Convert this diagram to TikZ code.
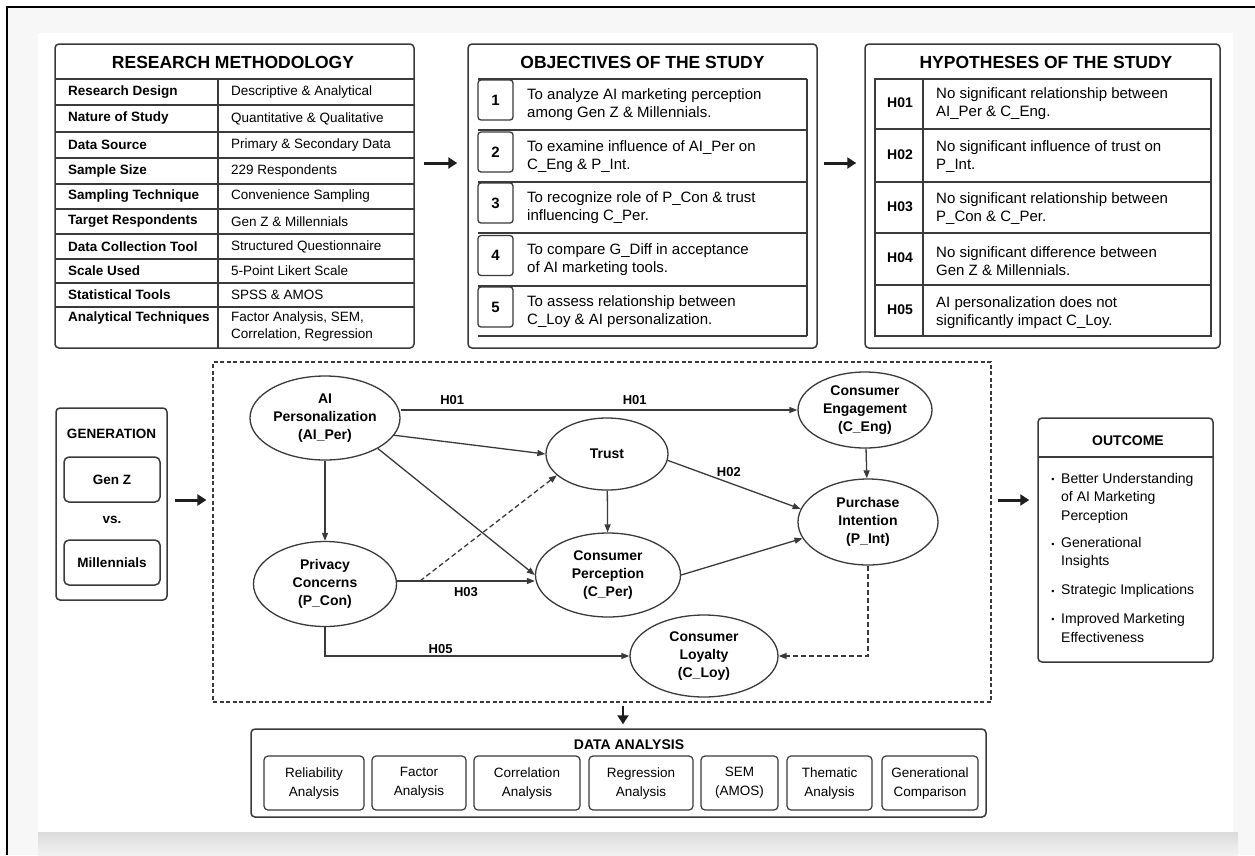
\documentclass[tikz,border=0pt]{standalone}
\usepackage{fontspec}
\setmainfont{Liberation Sans}
\usetikzlibrary{shapes.geometric,arrows.meta}
\definecolor{edgec}{HTML}{3A3A3A}
\definecolor{ink}{HTML}{1E1E1E}
\begin{document}
\begin{tikzpicture}[x=1pt, y=-1pt,
  box/.style={draw=edgec, line width=1.5pt, rounded corners=4pt},
  ttl/.style={font=\fontsize{17.5}{20}\selectfont\bfseries},
  tbl/.style={draw=edgec, line width=1.3pt},
  lab/.style={anchor=west, inner sep=0pt, font=\fontsize{13.5}{17}\selectfont\bfseries},
  val/.style={anchor=west, inner sep=0pt, align=left, font=\fontsize{13.5}{17}\selectfont},
  nbox/.style={draw=edgec, line width=1.3pt, rounded corners=3pt, fill=white, minimum width=35pt, minimum height=40pt, inner sep=0pt, font=\fontsize{15}{18}\selectfont\bfseries},
  txt/.style={anchor=west, inner sep=0pt, align=left, font=\fontsize{15}{18}\selectfont},
  hlab/.style={inner sep=0pt, font=\fontsize{14}{17}\selectfont\bfseries},
  var/.style={ellipse, draw=edgec, line width=1.3pt, fill=white, inner sep=0pt, align=center, font=\fontsize{14}{18}\selectfont\bfseries},
  arr/.style={draw=edgec, line width=1.3pt, -{Triangle[length=8pt,width=6pt]}},
  darr/.style={arr, dash pattern=on 5pt off 3pt},
  big/.style={draw=ink, line width=3pt, -{Triangle[length=9pt,width=11pt]}},
  lbl/.style={inner sep=2pt, font=\fontsize{13}{15}\selectfont\bfseries},
  dbox/.style={draw=edgec, line width=1.2pt, rounded corners=4pt, minimum height=54pt, inner sep=0pt, align=center, font=\fontsize{13.5}{19}\selectfont},
  bul/.style={inner sep=0pt, font=\fontsize{9}{10}\selectfont},
  otx/.style={anchor=west, inner sep=0pt, align=left, font=\fontsize{14}{18.5}\selectfont}]
\useasboundingbox (0,0) rectangle (1255,855);
\fill[white] (0,0) rectangle (1255,855);
\fill[gray!6] (7,7) rectangle (1255,855);
\shade[top color=gray!28, bottom color=gray!10] (38,832) rectangle (1238,855);
\fill[white] (38,33) rectangle (1233,832);
\draw[black, line width=2pt] (7,855) -- (7,7) -- (1255,7);
\node[box, minimum width=359pt, minimum height=304pt] (meth) at (234.5,196){};
\node[ttl] (metht) at (233,62){RESEARCH METHODOLOGY};
\draw[tbl] (55,79) -- (414,79) (55,105) -- (414,105) (55,132) -- (414,132) (55,158) -- (414,158) (55,184) -- (414,184) (55,209) -- (414,209) (55,234) -- (414,234) (55,259) -- (414,259) (55,283) -- (414,283) (55,307) -- (414,307) (218,79) -- (218,348);
\node[lab] (ml1) at (68,92){Research Design};
\node[val] (mv1) at (231,92){Descriptive \& Analytical};
\node[lab] (ml2) at (68,118.5){Nature of Study};
\node[val] (mv2) at (231,118.5){Quantitative \& Qualitative};
\node[lab] (ml3) at (68,145){Data Source};
\node[val] (mv3) at (231,145){Primary \& Secondary Data};
\node[lab] (ml4) at (68,171){Sample Size};
\node[val] (mv4) at (231,171){229 Respondents};
\node[lab] (ml5) at (68,196.5){Sampling Technique};
\node[val] (mv5) at (231,196.5){Convenience Sampling};
\node[lab] (ml6) at (68,221.5){Target Respondents};
\node[val] (mv6) at (231,221.5){Gen Z \& Millennials};
\node[lab] (ml7) at (68,246.5){Data Collection Tool};
\node[val] (mv7) at (231,246.5){Structured Questionnaire};
\node[lab] (ml8) at (68,271){Scale Used};
\node[val] (mv8) at (231,271){5-Point Likert Scale};
\node[lab] (ml9) at (68,295){Statistical Tools};
\node[val] (mv9) at (231,295){SPSS \& AMOS};
\node[lab] (ml10) at (68,318){Analytical Techniques};
\node[val] (mv10) at (231,326.5){Factor Analysis, SEM,\\Correlation, Regression};
\node[box, minimum width=349pt, minimum height=304pt] (objs) at (642.5,196){};
\node[ttl] (objst) at (642.5,62){OBJECTIVES OF THE STUDY};
\draw[tbl] (478,79) -- (807,79) (478,130) -- (807,130) (478,182) -- (807,182) (478,233) -- (807,233) (478,286) -- (807,286) (478,336) -- (807,336) (807,79) -- (807,336);
\node[nbox] (on1) at (495.5,100){1};
\node[txt] (ot1) at (527,105){To analyze AI marketing perception\\among Gen Z \& Millennials.};
\node[nbox] (on2) at (495.5,152){2};
\node[txt] (ot2) at (527,157){To examine influence of AI\_Per on\\C\_Eng \& P\_Int.};
\node[nbox] (on3) at (495.5,203){3};
\node[txt] (ot3) at (527,208){To recognize role of P\_Con \& trust\\influencing C\_Per.};
\node[nbox] (on4) at (495.5,255.5){4};
\node[txt] (ot4) at (527,260){To compare G\_Diff in acceptance\\of AI marketing tools.};
\node[nbox] (on5) at (495.5,307){5};
\node[txt] (ot5) at (527,312){To assess relationship between\\C\_Loy \& AI personalization.};
\node[box, minimum width=355pt, minimum height=304pt] (hyps) at (1042.5,196){};
\node[ttl] (hypst) at (1046,62){HYPOTHESES OF THE STUDY};
\draw[tbl] (875,79) rectangle (1211,336) (875,129) -- (1211,129) (875,182) -- (1211,182) (875,233) -- (1211,233) (875,285) -- (1211,285) (923,79) -- (923,336);
\node[hlab] (hl1) at (900,103){H01};
\node[txt] (ht1) at (936,104){No significant relationship between\\AI\_Per \& C\_Eng.};
\node[hlab] (hl2) at (900,155){H02};
\node[txt] (ht2) at (936,157){No significant influence of trust on\\P\_Int.};
\node[hlab] (hl3) at (900,207){H03};
\node[txt] (ht3) at (936,209){No significant relationship between\\P\_Con \& C\_Per.};
\node[hlab] (hl4) at (900,258){H04};
\node[txt] (ht4) at (936,261){No significant difference between\\Gen Z \& Millennials.};
\node[hlab] (hl5) at (900,310){H05};
\node[txt] (ht5) at (936,313){AI personalization does not\\significantly impact C\_Loy.};
\draw[big, shorten <=9pt, shorten >=10pt]([yshift=33pt]meth.east) -- ([yshift=33pt]objs.west);
\draw[big, shorten <=6pt, shorten >=8pt]([yshift=33pt]objs.east) -- ([yshift=33pt]hyps.west);
\node[box, minimum width=111pt, minimum height=192pt] (gen) at (111.5,504){};
\node[hlab, font=\fontsize{13.5}{16}\selectfont\bfseries] (gent) at (111.5,434){GENERATION};
\node[box, rounded corners=5pt, minimum width=96pt, minimum height=45pt, font=\fontsize{13.5}{16}\selectfont\bfseries] (genz) at (112,479.5){Gen Z};
\node[hlab, font=\fontsize{13.5}{16}\selectfont\bfseries] (vs) at (112,520){vs.};
\node[box, rounded corners=5pt, minimum width=96pt, minimum height=45pt, font=\fontsize{13.5}{16}\selectfont\bfseries] (mill) at (112,562.5){Millennials};
\node[draw=edgec, line width=1.1pt, dash pattern=on 4pt off 2.5pt, minimum width=778pt, minimum height=340pt] (sem) at (602,532){};
\draw[big, shorten <=7pt, shorten >=6pt]([yshift=4pt]gen.east) -- ([yshift=4pt]gen.east -| sem.west);
\node[var, minimum width=150pt, minimum height=84pt] (aiper) at (325,418){AI\\Personalization\\(AI\_Per)};
\node[var, minimum width=143pt, minimum height=85pt] (pcon) at (325,584){Privacy\\Concerns\\(P\_Con)};
\node[var, minimum width=122pt, minimum height=72pt] (trust) at (607,454){Trust};
\node[var, minimum width=145pt, minimum height=84pt] (cper) at (608,575){Consumer\\Perception\\(C\_Per)};
\node[var, minimum width=148pt, minimum height=82pt] (cloy) at (704,656){Consumer\\Loyalty\\(C\_Loy)};
\node[var, minimum width=134pt, minimum height=76pt] (ceng) at (865,410){Consumer\\Engagement\\(C\_Eng)};
\node[var, minimum width=140pt, minimum height=86pt] (pint) at (868,522){Purchase\\Intention\\(P\_Int)};
\coordinate (dsplit) at (420,581);
\draw[arr](aiper.east |- ceng.west) -- node[lbl, pos=0.13, above, yshift=3pt] (h01a){H01} node[lbl, pos=0.59, above, yshift=3pt] (h01b){H01} (ceng.west);
\draw[arr](aiper.-14) -- (trust.west);
\draw[arr](aiper.-30) -- (cper.west);
\draw[arr](aiper) -- (pcon);
\draw[arr]([yshift=3pt]pcon.east) -- node[lbl, pos=0.5, below, yshift=-4pt] (h03){H03} ([yshift=3pt]pcon.east -| cper.west);
\draw[darr](dsplit) -- (trust.203);
\draw[arr](pcon.south) |- node[lbl, pos=0.69, above] (h05){H05} (cloy.west);
\draw[arr](trust) -- (cper);
\draw[arr](trust.-6) -- node[lbl, pos=0.46, above, yshift=3pt] (h02){H02} (pint.169);
\draw[arr](cper.east) -- (pint.194);
\draw[arr](ceng) -- (pint);
\draw[darr](pint.south) |- (cloy.east);
\node[box, minimum width=175pt, minimum height=244pt] (outc) at (1125.5,540){};
\draw[tbl] (1038,457) -- (1213,457);
\node[hlab] (outct) at (1128,441){OUTCOME};
\node[bul] (ob1) at (1053,480){\textbullet};
\node[otx] (ot1x) at (1061,498){Better Understanding\\of AI Marketing\\Perception};
\node[bul] (ob2) at (1053,545){\textbullet};
\node[otx] (ot2x) at (1061,553){Generational\\Insights};
\node[bul] (ob3) at (1053,592){\textbullet};
\node[otx] (ot3x) at (1061,591){Strategic Implications};
\node[bul] (ob4) at (1053,620){\textbullet};
\node[otx] (ot4x) at (1061,628){Improved Marketing\\Effectiveness};
\draw[big, shorten <=6pt, shorten >=8pt]([yshift=32pt]sem.east) -- ([yshift=40pt]outc.west);
\node[box, minimum width=735pt, minimum height=88pt] (data) at (618.5,773){};
\node[hlab] (datat) at (629,745){DATA ANALYSIS};
\draw[big, line width=2.5pt, shorten <=3pt, shorten >=4pt]([xshift=21pt]sem.south) -- ([xshift=4.5pt]data.north);
\node[dbox, minimum width=100pt] (da1) at (314,783){Reliability\\Analysis};
\node[dbox, minimum width=94pt] (da2) at (419,783){Factor\\Analysis};
\node[dbox, minimum width=106pt] (da3) at (527,783){Correlation\\Analysis};
\node[dbox, minimum width=104pt] (da4) at (641,783){Regression\\Analysis};
\node[dbox, minimum width=77pt] (da5) at (739.5,783){SEM\\(AMOS)};
\node[dbox, minimum width=85pt] (da6) at (829.5,783){Thematic\\Analysis};
\node[dbox, minimum width=96pt] (da7) at (930,783){Generational\\Comparison};
\end{tikzpicture}
\end{document}
